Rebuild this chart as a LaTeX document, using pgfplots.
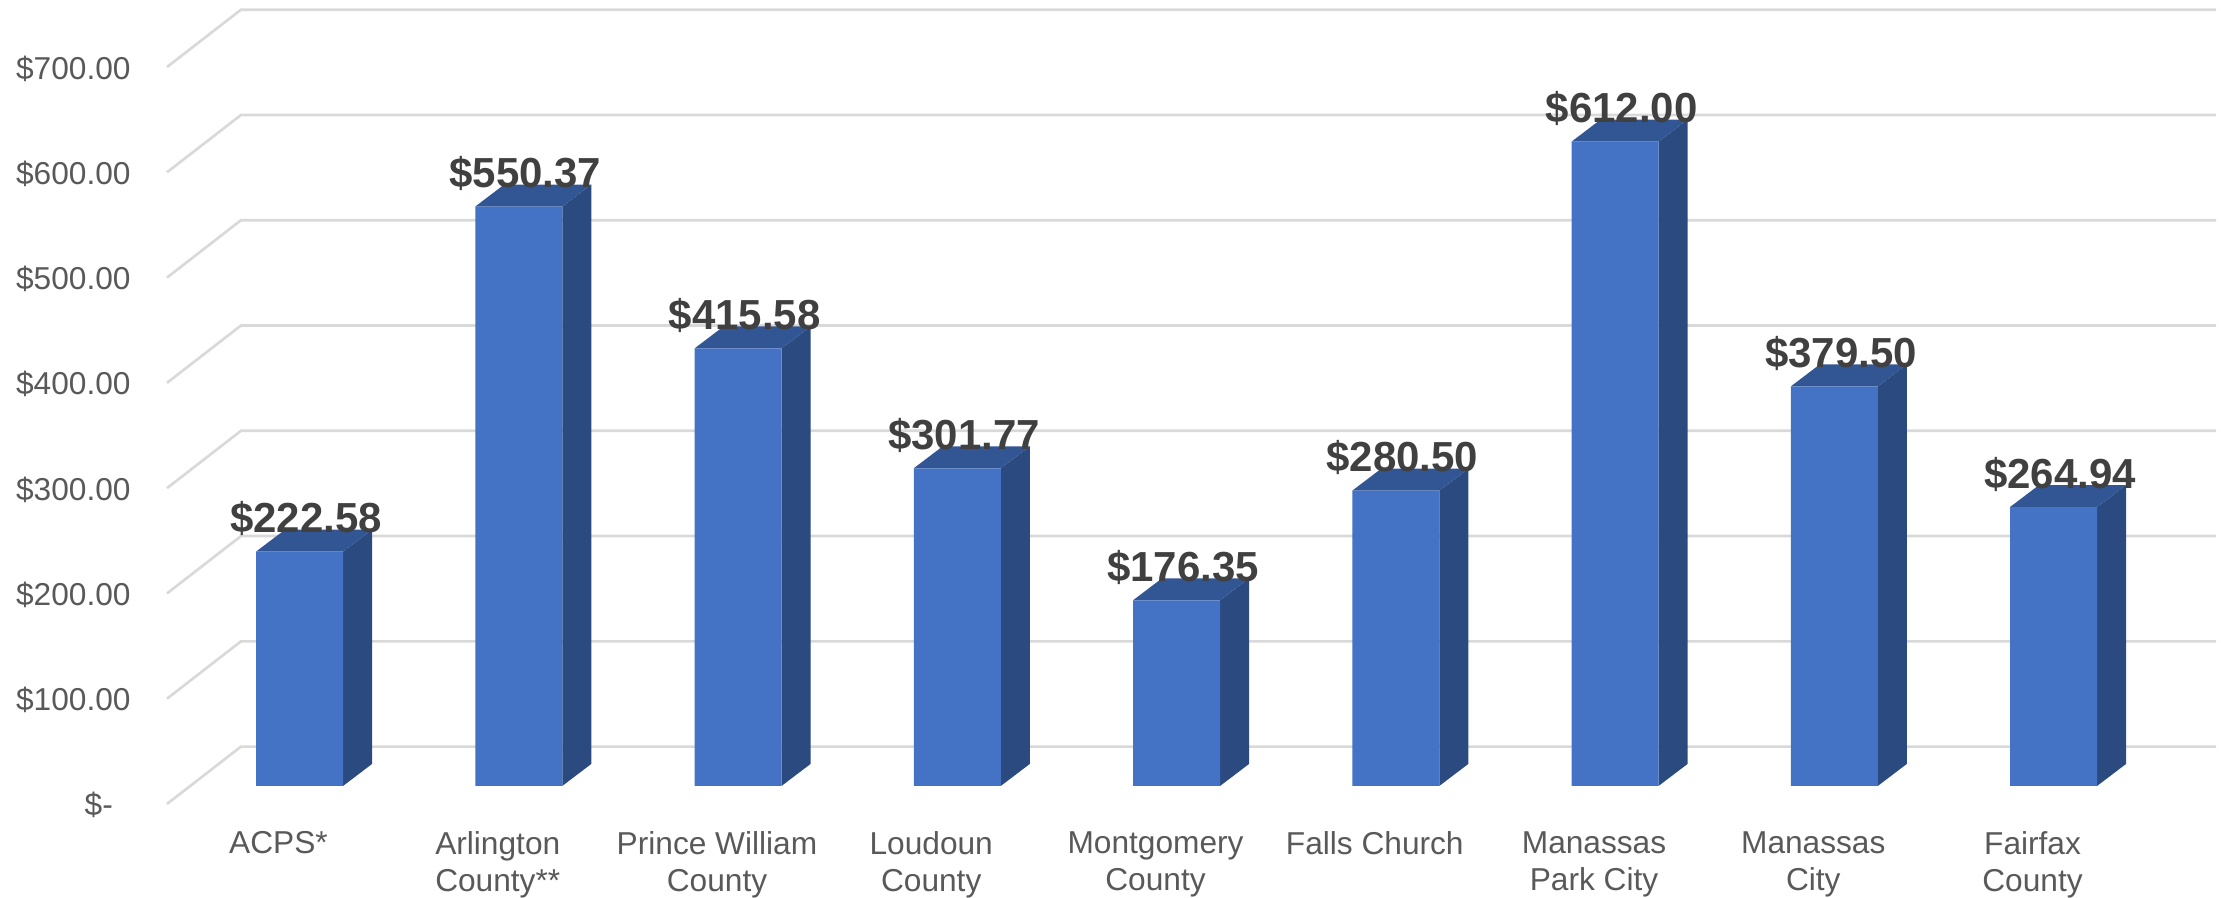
\documentclass[border=0pt]{standalone}
\usepackage{fontspec}
\setmainfont{Liberation Sans}
\usepackage{pgfplots}
\pgfplotsset{compat=1.18}
\definecolor{barfront}{HTML}{4472C4}
\definecolor{barside}{HTML}{2A4A80}
\definecolor{bartop}{HTML}{325694}
\definecolor{gridc}{HTML}{D9D9D9}
\definecolor{ticktext}{HTML}{595959}
\definecolor{valtext}{HTML}{404040}
\pgfplotsset{
  panel/.style={
    scale only axis, width=624.9pt, height=241.2pt,
    at={(41.4pt,28.2pt)}, anchor=south west, clip=false,
    axis line style={draw=none},
    major tick length=0pt,
  },
}
\begin{document}
\begin{tikzpicture}
\useasboundingbox (0,0) rectangle (666.3pt,269.4pt);
% front plane: tick labels and the wall grid
\begin{axis}[
  panel,
  xmin=-0.6408, xmax=8.8597, ymin=0, ymax=763.7,
  xtick={0,1,2,2.977,4,5,6,7,8},
  xticklabels={ACPS*,{Arlington\\County**},{Prince William\\County},{Loudoun\\County},{Montgomery\\County},Falls Church,{Manassas\\Park City},{Manassas\\City},{Fairfax\\County}},
  xticklabel style={align=center, text=ticktext, font=\fontsize{9.5}{11}\selectfont},
  xtick pos=bottom,
  xticklabel shift=4.8pt,
  ytick={0,100,...,700},
  yticklabels={\$-\rule{5.3pt}{0pt},\$100.00,\$200.00,\$300.00,\$400.00,\$500.00,\$600.00,\$700.00},
  yticklabel style={text=ticktext, font=\fontsize{9.5}{11}\selectfont, yshift=-0.4pt},
  ytick pos=left,
  yticklabel shift=-1.3pt,
  unbounded coords=jump,
]
\addplot[gridc, line width=0.8pt, mark=none] coordinates {
  (-0.5086,0) (-0.1710,54.5) (8.8370,54.5) (nan,nan)
  (-0.5086,100) (-0.1710,154.5) (8.8370,154.5) (nan,nan)
  (-0.5086,200) (-0.1710,254.5) (8.8370,254.5) (nan,nan)
  (-0.5086,300) (-0.1710,354.5) (8.8370,354.5) (nan,nan)
  (-0.5086,400) (-0.1710,454.5) (8.8370,454.5) (nan,nan)
  (-0.5086,500) (-0.1710,554.5) (8.8370,554.5) (nan,nan)
  (-0.5086,600) (-0.1710,654.5) (8.8370,654.5) (nan,nan)
  (-0.5086,700) (-0.1710,754.5) (8.8370,754.5)
};
\end{axis}
% bar plane
\begin{axis}[
  panel,
  xmin=-0.7366, xmax=8.7640, ymin=-17.10, ymax=746.58,
  xtick=\empty, ytick=\empty,
  unbounded coords=jump,
]
% side faces
\addplot[fill=barside, draw=none, mark=none] coordinates {
  (0.1984,0) (0.3307,20.9) (0.3307,243.48) (0.1984,222.58) (nan,nan)
  (1.1984,0) (1.3307,20.9) (1.3307,571.27) (1.1984,550.37) (nan,nan)
  (2.1984,0) (2.3307,20.9) (2.3307,436.48) (2.1984,415.58) (nan,nan)
  (3.1984,0) (3.3307,20.9) (3.3307,322.67) (3.1984,301.77) (nan,nan)
  (4.1984,0) (4.3307,20.9) (4.3307,197.25) (4.1984,176.35) (nan,nan)
  (5.1984,0) (5.3307,20.9) (5.3307,301.40) (5.1984,280.50) (nan,nan)
  (6.1984,0) (6.3307,20.9) (6.3307,632.90) (6.1984,612.00) (nan,nan)
  (7.1984,0) (7.3307,20.9) (7.3307,400.40) (7.1984,379.50) (nan,nan)
  (8.1984,0) (8.3307,20.9) (8.3307,285.84) (8.1984,264.94)
};
% top faces
\addplot[fill=bartop, draw=none, mark=none] coordinates {
  (-0.1984,222.58) (-0.0661,243.48) (0.3307,243.48) (0.1984,222.58) (nan,nan)
  (0.8016,550.37) (0.9339,571.27) (1.3307,571.27) (1.1984,550.37) (nan,nan)
  (1.8016,415.58) (1.9339,436.48) (2.3307,436.48) (2.1984,415.58) (nan,nan)
  (2.8016,301.77) (2.9339,322.67) (3.3307,322.67) (3.1984,301.77) (nan,nan)
  (3.8016,176.35) (3.9339,197.25) (4.3307,197.25) (4.1984,176.35) (nan,nan)
  (4.8016,280.50) (4.9339,301.40) (5.3307,301.40) (5.1984,280.50) (nan,nan)
  (5.8016,612.00) (5.9339,632.90) (6.3307,632.90) (6.1984,612.00) (nan,nan)
  (6.8016,379.50) (6.9339,400.40) (7.3307,400.40) (7.1984,379.50) (nan,nan)
  (7.8016,264.94) (7.9339,285.84) (8.3307,285.84) (8.1984,264.94)
};
% front faces and value labels
\addplot[
  ybar, bar width=26.1pt, bar shift=0pt, fill=barfront, draw=none,
  nodes near coords={\$\pgfmathprintnumber[fixed, fixed zerofill, precision=2, 1000 sep={}, assume math mode=true]{\pgfplotspointmeta}},
  every node near coord/.style={anchor=base, yshift=5.7pt, xshift=2pt, inner sep=0pt,
    text=valtext, font=\fontsize{12.6}{14}\selectfont\bfseries},
] coordinates {
  (0,222.58) (1,550.37) (2,415.58) (3,301.77) (4,176.35)
  (5,280.50) (6,612.00) (7,379.50) (8,264.94)
};
\end{axis}
\end{tikzpicture}
\end{document}
